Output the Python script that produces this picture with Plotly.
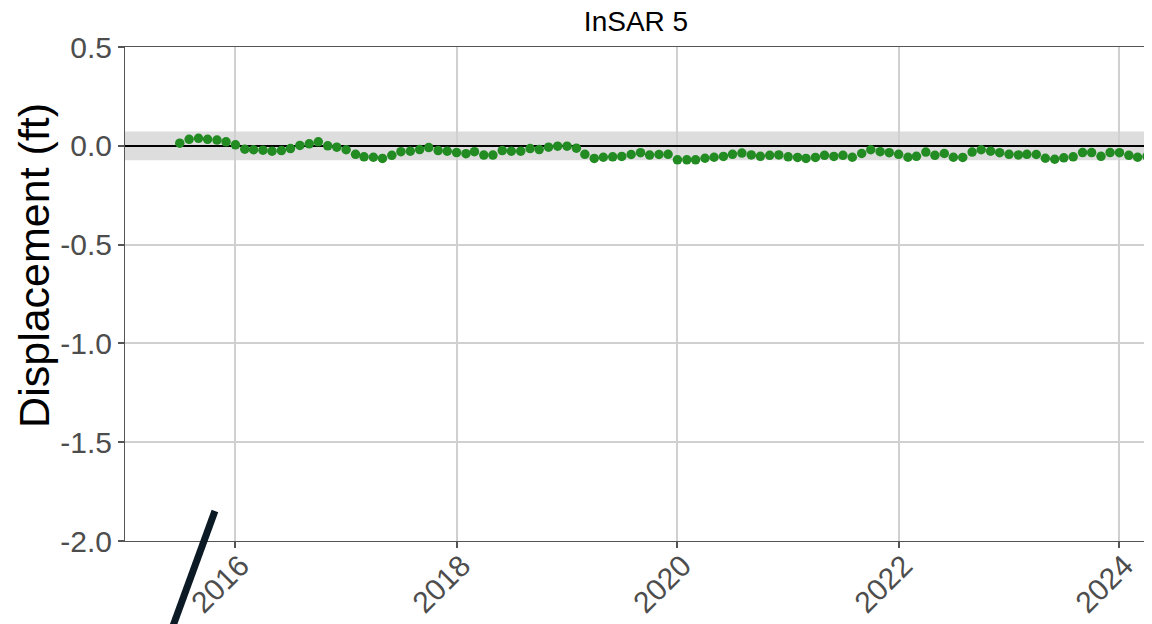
import plotly.graph_objects as go
import pandas as pd

# Monthly InSAR displacement (ft)
dates = pd.date_range("2015-07-01", "2024-04-01", freq="MS").strftime("%Y-%m-%d").tolist()
displacement = [
    0.013, 0.033, 0.038, 0.033, 0.029, 0.020, 0.005, -0.017, -0.020, -0.022,
    -0.027, -0.024, -0.014, 0.002, 0.010, 0.020, 0.000, -0.007, -0.020, -0.043,
    -0.056, -0.058, -0.064, -0.048, -0.030, -0.027, -0.019, -0.009, -0.024, -0.027,
    -0.034, -0.040, -0.030, -0.047, -0.047, -0.024, -0.027, -0.027, -0.014, -0.019,
    -0.007, -0.002, -0.002, -0.012, -0.043, -0.064, -0.058, -0.056, -0.054, -0.044,
    -0.035, -0.047, -0.044, -0.043, -0.071, -0.071, -0.071, -0.063, -0.058, -0.054,
    -0.043, -0.037, -0.046, -0.053, -0.048, -0.046, -0.056, -0.059, -0.064, -0.059,
    -0.048, -0.054, -0.048, -0.058, -0.039, -0.020, -0.030, -0.035, -0.043, -0.058,
    -0.053, -0.032, -0.048, -0.039, -0.058, -0.059, -0.032, -0.020, -0.027, -0.035,
    -0.043, -0.046, -0.043, -0.044, -0.063, -0.068, -0.061, -0.056, -0.034, -0.034,
    -0.053, -0.034, -0.035, -0.048, -0.058, -0.053,
]
band_half_width = 0.073
y_ticks = [0.5, 0.0, -0.5, -1.0, -1.5, -2.0]
x_ticks = ["2016-01-01", "2018-01-01", "2020-01-01", "2022-01-01", "2024-01-01"]
x_tick_labels = ["2016", "2018", "2020", "2022", "2024"]

font_family = "Liberation Sans, Arial, sans-serif"

fig = go.Figure()
fig.add_trace(go.Scatter(
    x=dates, y=displacement, mode="markers",
    marker=dict(color="#228B22", size=9.5),
    showlegend=False, cliponaxis=True,
))

# uncertainty band around zero
fig.add_shape(type="rect", xref="paper", yref="y", x0=0, x1=1,
              y0=-band_half_width, y1=band_half_width,
              fillcolor="rgba(150,150,150,0.32)", line_width=0, layer="below")
# dark slash mark near bottom-left
fig.add_shape(type="line", xref="paper", yref="paper",
              x0=0.088, y0=0.0607, x1=0.042, y1=-0.2,
              line=dict(color="#0b1a24", width=7), layer="above")

# y-axis title as annotation
fig.add_annotation(text="Displacement (ft)", xref="paper", yref="paper",
                   x=-0.089, y=0.557, xanchor="center", yanchor="middle",
                   textangle=-90, showarrow=False,
                   font=dict(size=43, color="black", family=font_family))

fig.update_layout(
    width=1144, height=616,
    margin=dict(l=117, r=5, t=39, b=83),
    paper_bgcolor="white", plot_bgcolor="white",
    font=dict(family=font_family, color="#4d4d4d"),
    title=dict(text="InSAR 5", xref="paper", x=0.5, xanchor="center",
               y=0.978, yanchor="middle",
               font=dict(size=28, color="black", family=font_family)),
    xaxis=dict(
        range=["2015-01-01", "2024-04-01"], type="date",
        tickvals=x_ticks, ticktext=x_tick_labels, tickangle=-45,
        tickfont=dict(size=30, color="#4d4d4d"),
        showgrid=True, gridcolor="#d0d0d0", gridwidth=2,
        showline=True, linecolor="#555555", linewidth=1, mirror=True,
        ticks="outside", ticklen=6, tickcolor="#555555", tickwidth=2,
        ticklabelstandoff=-12, ticklabelshift=5,
        zeroline=False, automargin=False,
    ),
    yaxis=dict(
        range=[-2.0, 0.5], tickvals=y_ticks,
        ticktext=[f"{v:.1f}" for v in y_ticks],
        tickfont=dict(size=30, color="#4d4d4d"),
        showgrid=True, gridcolor="#d0d0d0", gridwidth=2,
        showline=True, linecolor="#555555", linewidth=1, mirror=True,
        ticks="outside", ticklen=6, tickcolor="#555555", tickwidth=2,
        zeroline=True, zerolinecolor="black", zerolinewidth=2,
        automargin=False,
    ),
)

fig.write_html("out.html")
